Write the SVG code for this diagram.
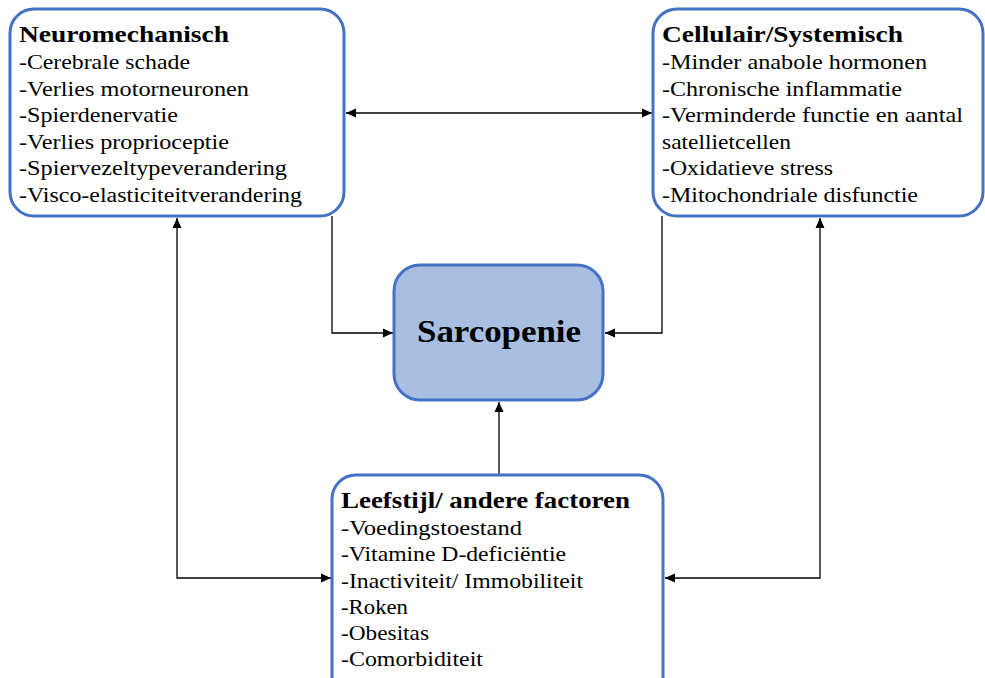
<svg xmlns="http://www.w3.org/2000/svg" width="985" height="678" viewBox="0 0 985 678">
<style>
.box{fill:#ffffff;stroke:#4472C4;stroke-width:3}
.core{fill:#A9BFE1;stroke:#4472C4;stroke-width:3}
text{font-family:'Liberation Serif','Times New Roman',Times,serif;fill:#000}
.t{font-size:21px}
.h{font-size:23.5px;font-weight:bold}
.big{font-size:32px;font-weight:bold}
.c{fill:none;stroke:#000;stroke-width:1.3}
</style>
<defs>
<marker id="ah" viewBox="0 0 10 10" refX="10" refY="5" markerWidth="10" markerHeight="10" markerUnits="userSpaceOnUse" orient="auto-start-reverse">
<path d="M0,0.5 L10,5 L0,9.5 Z" fill="#000"/>
</marker>
</defs>
<g id="connectors">
<line class="c" x1="346" y1="113" x2="652" y2="113" marker-start="url(#ah)" marker-end="url(#ah)"/>
<polyline class="c" points="177,218 177,578 331,578" marker-start="url(#ah)" marker-end="url(#ah)"/>
<polyline class="c" points="820,218 820,578 665,578" marker-start="url(#ah)" marker-end="url(#ah)"/>
<polyline class="c" points="332,216 332,333 393,333" marker-end="url(#ah)"/>
<polyline class="c" points="662,216 662,333 605,333" marker-end="url(#ah)"/>
<line class="c" x1="499" y1="475" x2="499" y2="402" marker-end="url(#ah)"/>
</g>
<g id="neuromechanisch">
<rect class="box" x="10" y="9" width="334" height="207" rx="24"/>
<text class="h" x="19" y="42" textLength="210" lengthAdjust="spacingAndGlyphs">Neuromechanisch</text>
<text class="t" x="19" y="69" textLength="171" lengthAdjust="spacingAndGlyphs">-Cerebrale schade</text>
<text class="t" x="19" y="95.5" textLength="230" lengthAdjust="spacingAndGlyphs">-Verlies motorneuronen</text>
<text class="t" x="19" y="122" textLength="159" lengthAdjust="spacingAndGlyphs">-Spierdenervatie</text>
<text class="t" x="19" y="148.5" textLength="210" lengthAdjust="spacingAndGlyphs">-Verlies proprioceptie</text>
<text class="t" x="19" y="175" textLength="268" lengthAdjust="spacingAndGlyphs">-Spiervezeltypeverandering</text>
<text class="t" x="19" y="201.5" textLength="283" lengthAdjust="spacingAndGlyphs">-Visco-elasticiteitverandering</text>
</g>
<g id="cellulair">
<rect class="box" x="653" y="9" width="330" height="207" rx="24"/>
<text class="h" x="662" y="42" textLength="241" lengthAdjust="spacingAndGlyphs">Cellulair/Systemisch</text>
<text class="t" x="662" y="69" textLength="265" lengthAdjust="spacingAndGlyphs">-Minder anabole hormonen</text>
<text class="t" x="662" y="95.5" textLength="240" lengthAdjust="spacingAndGlyphs">-Chronische inflammatie</text>
<text class="t" x="662" y="122" textLength="301" lengthAdjust="spacingAndGlyphs">-Verminderde functie en aantal</text>
<text class="t" x="662" y="148.5" textLength="129" lengthAdjust="spacingAndGlyphs">satellietcellen</text>
<text class="t" x="662" y="175" textLength="171" lengthAdjust="spacingAndGlyphs">-Oxidatieve stress</text>
<text class="t" x="662" y="201.5" textLength="256" lengthAdjust="spacingAndGlyphs">-Mitochondriale disfunctie</text>
</g>
<g id="sarcopenie">
<rect class="core" x="394" y="265" width="209" height="135" rx="26"/>
<text class="big" x="499" y="342" text-anchor="middle" textLength="164" lengthAdjust="spacingAndGlyphs">Sarcopenie</text>
</g>
<g id="leefstijl">
<rect class="box" x="332" y="475" width="331" height="230" rx="24"/>
<text class="h" x="341" y="508" textLength="289" lengthAdjust="spacingAndGlyphs">Leefstijl/ andere factoren</text>
<text class="t" x="341" y="535" textLength="181" lengthAdjust="spacingAndGlyphs">-Voedingstoestand</text>
<text class="t" x="341" y="561" textLength="225" lengthAdjust="spacingAndGlyphs">-Vitamine D-deficiëntie</text>
<text class="t" x="341" y="588" textLength="242" lengthAdjust="spacingAndGlyphs">-Inactiviteit/ Immobiliteit</text>
<text class="t" x="341" y="614" textLength="67" lengthAdjust="spacingAndGlyphs">-Roken</text>
<text class="t" x="341" y="640" textLength="88" lengthAdjust="spacingAndGlyphs">-Obesitas</text>
<text class="t" x="341" y="666" textLength="142" lengthAdjust="spacingAndGlyphs">-Comorbiditeit</text>
</g>
</svg>
